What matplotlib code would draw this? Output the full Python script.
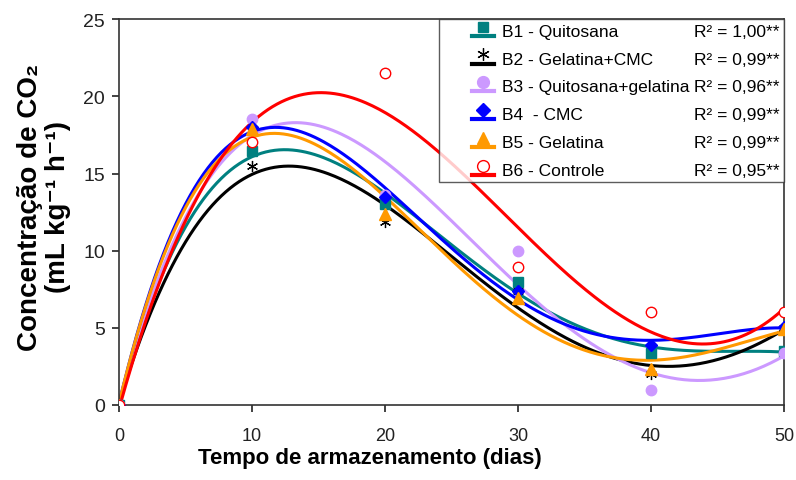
import numpy as np
import matplotlib
matplotlib.use("Agg")
import matplotlib.pyplot as plt
from matplotlib.lines import Line2D
from matplotlib.legend_handler import HandlerBase

plt.rcParams['font.family'] = ['Liberation Sans', 'DejaVu Sans']

dias = [0, 10, 20, 30, 40, 50]

b1 = [0, 16.45, 13.0, 7.95, 3.4, 3.5]
b2 = [0, 15.5, 11.85, 7.4, 2.0, 5.0]
b3 = [0, 18.55, 13.6, 9.95, 1.0, 3.4]
b4 = [0, 18.0, 13.5, 7.4, 3.9, 5.05]
b5 = [0, 17.9, 12.4, 6.9, 2.35, 4.9]
b6 = [0, 17.05, 21.5, 8.95, 6.0, 6.0]

nomes = ["B1 - Quitosana", "B2 - Gelatina+CMC", "B3 - Quitosana+gelatina",
         "B4  - CMC", "B5 - Gelatina", "B6 - Controle"]
r2 = ["1,00", "0,99", "0,96", "0,99", "0,99", "0,95"]

series = [b1, b2, b3, b4, b5, b6]
cores = ["#008080", "#000000", "#CC99FF", "#0000FF", "#FF9900", "#FF0000"]


class MarcadorSobreLinha(HandlerBase):
    # marker sitting above a short thick line, drawn in the right part of the handle box
    def create_artists(self, legend, orig, xd, yd, w, h, fontsize, trans):
        x0 = -xd + 0.56 * w
        x1 = -xd + w
        y0 = -yd + 0.0 * h
        linha = Line2D([x0, x1], [y0, y0], color=orig.get_color(), lw=3.0)
        m = Line2D([(x0 + x1) / 2], [-yd + 0.75 * h], marker=orig.get_marker(),
                   markersize=orig.get_markersize() + 1, markerfacecolor=orig.get_markerfacecolor(),
                   markeredgecolor=orig.get_markeredgecolor(), markeredgewidth=orig.get_markeredgewidth(),
                   linestyle="none")
        for a in (linha, m):
            a.set_transform(trans)
        return [linha, m]


class Vazio(HandlerBase):
    def create_artists(self, legend, orig, xd, yd, w, h, fontsize, trans):
        nada = Line2D([], [], visible=False)
        nada.set_transform(trans)
        return [nada]


fig = plt.figure(figsize=(7.96, 4.81), dpi=100)
ax = fig.add_axes([0.1495, 0.156, 0.8355, 0.802])

x = np.array(dias, dtype=float)
xx = np.linspace(0, 50, 300)
handles = []
for i, (vals, cor) in enumerate(zip(series, cores)):
    coef = np.polyfit(x, vals, 4)
    ax.plot(xx, np.polyval(coef, xx), color=cor, lw=2.2, zorder=2)
    if i == 5:
        h, = ax.plot(x, vals, linestyle="none", marker="o", markersize=7.5,
                     markerfacecolor="white", markeredgecolor=cor, markeredgewidth=1.0, zorder=3, color=cor)
    elif i == 1:
        h, = ax.plot(x, vals, linestyle="none", marker=(6, 2, 0), markersize=8,
                     markeredgecolor=cor, markeredgewidth=0.9, zorder=3, color=cor)
    else:
        mk = {0: "s", 2: "o", 3: "D", 4: "^"}[i]
        ms = {0: 6.5, 2: 7.5, 3: 6.5, 4: 8}[i]
        h, = ax.plot(x, vals, linestyle="none", marker=mk, markersize=ms,
                     markerfacecolor=cor, markeredgecolor=cor, zorder=3, color=cor)
    handles.append(h)

ax.set_xlim(0, 50)
ax.set_ylim(0, 25)
ax.set_xticks([0, 10, 20, 30, 40, 50])
ax.set_yticks([0, 5, 10, 15, 20, 25])
ax.tick_params(direction="out", length=5, width=1.2, colors="#222222")
ax.tick_params(axis="y", pad=5, labelsize=14)
ax.tick_params(axis="x", pad=11, labelsize=13)
for s in ax.spines.values():
    s.set_color("#333333")
    s.set_linewidth(1.2)

ax.set_xlabel("Tempo de armazenamento (dias)", fontsize=16, fontweight="bold")
ax.xaxis.set_label_coords(0.377, -0.11)
ax.set_ylabel("Concentração de CO₂\n(mL kg⁻¹ h⁻¹)",
              fontsize=20, fontweight="bold", linespacing=1.12)
ax.yaxis.set_label_coords(-0.072, 0.515)

# two columns: treatment names and their R² values
vazios = [Line2D([], []) for _ in r2]
mapa = {h: MarcadorSobreLinha() for h in handles}
mapa.update({v: Vazio() for v in vazios})
rotulos = nomes + [f"R² = {v}**" for v in r2]
leg = ax.legend(handles + vazios, rotulos, ncol=2, loc="upper right", bbox_to_anchor=(1.0, 1.0),
                handler_map=mapa, fontsize=12.5, frameon=True, fancybox=False,
                edgecolor="#333333", borderaxespad=0, borderpad=0.25,
                handlelength=2.93, handleheight=0.7, handletextpad=0.45,
                labelspacing=0.73, columnspacing=-3.12)
leg.get_frame().set_linewidth(1.0)

fig.savefig("out.png", dpi=100)
